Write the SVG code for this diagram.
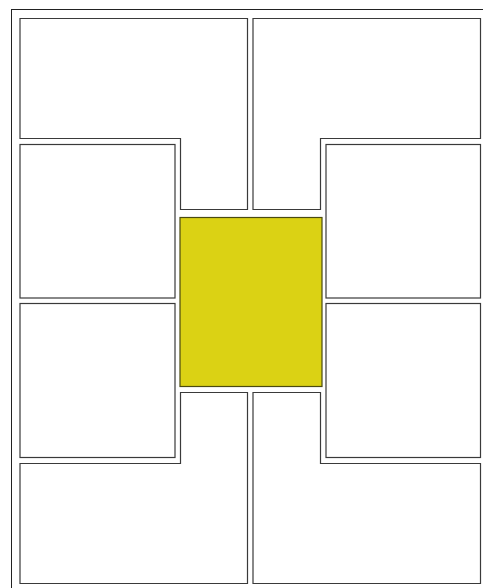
<svg xmlns="http://www.w3.org/2000/svg" width="483" height="588" viewBox="0 0 483 588">
<style>
.p{fill:#ffffff;stroke:#3a3a3a;stroke-width:1.2}
.c{fill:#dbd214;stroke:#4a4a10;stroke-width:1.2}
.f{fill:none;stroke:#222;stroke-width:1}
</style>
<rect width="483" height="588" fill="#fff"/>
<g id="frame"><rect class="f" x="11.5" y="9.5" width="480" height="590"/></g>
<g id="top-left"><path class="p" d="M20,18.5 H247.5 V209.5 H180.5 V138.5 H20 Z"/></g>
<g id="top-right"><path class="p" d="M253,18.5 H480.5 V138.5 H320.5 V209.5 H253 Z"/></g>
<g id="left-1"><rect class="p" x="20" y="144.5" width="155" height="153.5"/></g>
<g id="left-2"><rect class="p" x="20" y="303.5" width="155" height="154"/></g>
<g id="right-1"><rect class="p" x="326" y="144.5" width="154.5" height="153.5"/></g>
<g id="right-2"><rect class="p" x="326" y="303.5" width="154.5" height="154"/></g>
<g id="center"><rect class="c" x="180" y="217.5" width="142" height="169"/></g>
<g id="bottom-left"><path class="p" d="M180.5,392.5 H247.5 V583.5 H20 V463.5 H180.5 Z"/></g>
<g id="bottom-right"><path class="p" d="M253,392.5 H320.5 V463.5 H480.5 V583.5 H253 Z"/></g>
<g id="connectors"></g>
</svg>
